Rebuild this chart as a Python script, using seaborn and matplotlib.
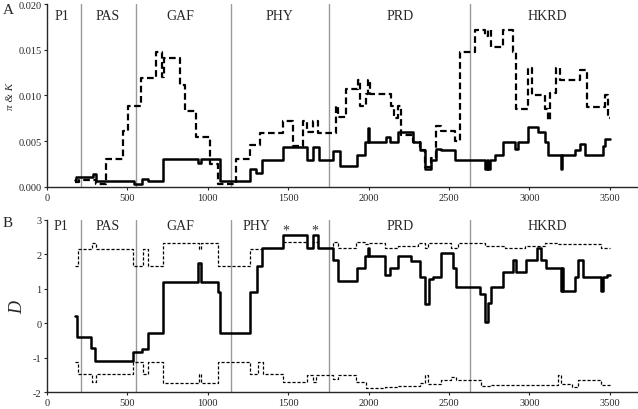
import numpy as np
import pandas as pd
import seaborn as sns
from matplotlib import pyplot as plt

# domain boundaries and names
boundaries = [210, 552, 1147, 1753, 2633]
domains = ["P1", "PAS", "GAF", "PHY", "PRD", "HKRD"]
domain_x_a = [92, 378, 826, 1448, 2195, 3110]
domain_x_b = [89, 380, 826, 1303, 2193, 3112]
star_x = [1485, 1666]

# panel A: sliding window pi (solid) and K (dashed), step values
pi_pos = [172, 183, 286, 307, 540, 590, 630, 722, 940, 960, 1075, 1265, 1300, 1340,
          1468, 1614, 1655, 1693, 1780, 1821, 1925, 1977, 1995, 2005, 2110, 2131,
          2183, 2276, 2318, 2349, 2390, 2421, 2452, 2535, 2722, 2735, 2745, 2755,
          2785, 2837, 2909, 2930, 2992, 3054, 3096, 3117, 3195, 3205, 3282, 3313,
          3345, 3460, 3469, 3500]
pi_val = [0.0008, 0.0011, 0.0014, 0.0006, 0.0003, 0.0009, 0.0006, 0.0031, 0.0026,
          0.0031, 0.0006, 0.0020, 0.0015, 0.00295, 0.0044, 0.00295, 0.0044, 0.00295,
          0.0039, 0.0023, 0.0035, 0.0049, 0.0065, 0.0049, 0.0055, 0.0049, 0.0060,
          0.0049, 0.0040, 0.0020, 0.0030, 0.0042, 0.0040, 0.0030, 0.0020, 0.0030,
          0.0020, 0.0030, 0.0035, 0.0049, 0.0042, 0.0049, 0.0066, 0.0060, 0.0049,
          0.0035, 0.0020, 0.0035, 0.0040, 0.0047, 0.0035, 0.0045, 0.0052, 0.0052]

k_pos = [172, 200, 307, 365, 473, 504, 587, 680, 716, 726, 826, 857, 929, 1012,
         1064, 1178, 1261, 1324, 1468, 1530, 1593, 1614, 1655, 1686, 1800, 1812,
         1861, 1934, 1944, 1986, 1998, 2010, 2141, 2160, 2180, 2204, 2276, 2318,
         2349, 2390, 2421, 2452, 2535, 2567, 2660, 2722, 2743, 2764, 2837, 2898,
         2919, 2992, 3014, 3096, 3117, 3127, 3168, 3189, 3313, 3355, 3469, 3490, 3500]
k_val = [0.0005, 0.0008, 0.0003, 0.0031, 0.0061, 0.0088, 0.0119, 0.0147, 0.0120,
         0.0141, 0.0112, 0.0083, 0.0055, 0.0025, 0.0003, 0.0031, 0.0046, 0.0059,
         0.0072, 0.0045, 0.0072, 0.0060, 0.0072, 0.0059, 0.0088, 0.0077, 0.0107,
         0.0117, 0.0088, 0.0102, 0.0117, 0.0102, 0.0088, 0.0075, 0.0088, 0.0057,
         0.0049, 0.0040, 0.0022, 0.0032, 0.0067, 0.0061, 0.0050, 0.0147, 0.0172,
         0.0165, 0.0172, 0.0153, 0.0172, 0.0147, 0.0085, 0.0130, 0.0100, 0.0085,
         0.0073, 0.0103, 0.0130, 0.0117, 0.0128, 0.0087, 0.0100, 0.0075, 0.0075]

# panel B: Tajima's D (solid) and confidence limits (dashed)
d_pos = [172, 187, 276, 300, 535, 593, 629, 722, 940, 960, 1064, 1075, 1261, 1303,
         1334, 1468, 1614, 1651, 1686, 1780, 1811, 1925, 1977, 1995, 2005, 2100,
         2131, 2183, 2266, 2318, 2349, 2374, 2402, 2452, 2525, 2546, 2691, 2722,
         2743, 2764, 2837, 2899, 2919, 2981, 3044, 3075, 3106, 3195, 3205, 3210,
         3282, 3303, 3334, 3448, 3459, 3480, 3500]
d_val = [0.22, -0.40, -0.72, -1.08, -0.82, -0.75, -0.28, 1.20, 1.75, 1.20, 0.90,
         -0.28, 0.92, 1.65, 2.19, 2.56, 2.19, 2.56, 2.19, 1.83, 1.23, 1.61, 1.95,
         2.20, 1.95, 1.40, 1.60, 1.95, 1.80, 1.35, 0.55, 1.30, 1.35, 2.05, 1.60,
         1.05, 0.85, 0.05, 0.60, 1.05, 1.50, 1.85, 1.50, 1.85, 2.20, 1.85, 1.60,
         0.95, 1.60, 0.95, 1.35, 1.85, 1.35, 0.95, 1.35, 1.40, 1.40]

up_pos = [172, 193, 282, 307, 535, 598, 629, 722, 945, 958, 1064, 1261, 1334, 1468,
          1614, 1651, 1686, 1780, 1811, 1924, 1975, 1996, 2100, 2183, 2308, 2350,
          2371, 2515, 2557, 2722, 2847, 2972, 3097, 3180, 3448, 3500]
up_val = [1.65, 2.15, 2.33, 2.15, 1.65, 2.15, 1.65, 2.33, 2.15, 2.33, 1.65, 2.15,
          2.19, 2.36, 2.19, 2.36, 2.19, 2.36, 2.18, 2.35, 2.30, 2.33, 2.20, 2.25,
          2.33, 2.20, 2.33, 2.18, 2.33, 2.25, 2.20, 2.25, 2.33, 2.30, 2.18, 2.18]

lo_pos = [172, 193, 282, 307, 535, 598, 629, 722, 945, 958, 1064, 1261, 1313, 1344,
          1468, 1614, 1651, 1675, 1780, 1811, 1924, 1985, 2100, 2183, 2318, 2350,
          2371, 2453, 2515, 2546, 2700, 2760, 3180, 3195, 3266, 3303, 3448, 3500]
lo_val = [-1.13, -1.48, -1.70, -1.48, -1.13, -1.48, -1.13, -1.72, -1.48, -1.72,
          -1.13, -1.48, -1.13, -1.48, -1.70, -1.49, -1.70, -1.49, -1.62, -1.49,
          -1.70, -1.88, -1.85, -1.82, -1.72, -1.50, -1.75, -1.65, -1.55, -1.65,
          -1.82, -1.80, -1.50, -1.75, -1.85, -1.65, -1.80, -1.80]

sns.set_style("ticks")
plt.rcParams['font.family'] = ['Liberation Serif', 'DejaVu Serif']
plt.rcParams['axes.linewidth'] = 1.0
plt.rcParams['axes.unicode_minus'] = False

fig = plt.figure(figsize=(6.38, 4.10), dpi=100)
ax_a = fig.add_axes([0.0737, 0.5415, 0.925, 0.4463])
ax_b = fig.add_axes([0.0737, 0.041, 0.925, 0.420])


def step(ax, pos, val, **kw):
    df = pd.DataFrame({"pos": pos, "val": val})
    sns.lineplot(data=df, x="pos", y="val", ax=ax, estimator=None,
                 drawstyle="steps-post", **kw)


for ax in (ax_a, ax_b):
    for b in boundaries:
        ax.axvline(b, color="#9a9a9a", lw=1.0, zorder=0)

step(ax_a, k_pos, k_val, color="black", lw=1.6, dashes=(3, 1.6))
step(ax_a, pi_pos, pi_val, color="black", lw=1.8)

step(ax_b, up_pos, up_val, color="black", lw=0.9, dashes=(2.5, 1.5))
step(ax_b, lo_pos, lo_val, color="black", lw=0.9, dashes=(2.5, 1.5))
step(ax_b, d_pos, d_val, color="black", lw=1.8)

ax_a.set_xlim(0, 3670)
ax_a.set_ylim(0, 0.020)
ax_a.set_yticks(np.arange(0, 0.0201, 0.005))
ax_a.set_yticklabels(["0.000", "0.005", "0.010", "0.015", "0.020"])
ax_b.set_xlim(0, 3670)
ax_b.set_ylim(-2, 3)
ax_b.set_yticks(range(-2, 4))

for ax in (ax_a, ax_b):
    ax.set_xticks(range(0, 3501, 500))
    ax.set_xlabel("")
    ax.tick_params(labelsize=7.5, length=2.5, width=0.8, pad=1.5)
    sns.despine(ax=ax)

ax_a.set_ylabel("π & K", fontsize=8, style="italic", labelpad=2)
ax_b.set_ylabel("D", fontsize=13, style="italic", labelpad=5)

for name, x in zip(domains, domain_x_a):
    ax_a.text(x, 0.0187, name, ha="center", va="center", fontsize=10)
for name, x in zip(domains, domain_x_b):
    ax_b.text(x, 2.83, name, ha="center", va="center", fontsize=10)
for x in star_x:
    ax_b.text(x, 2.72, "*", ha="center", va="center", fontsize=10, color="#333333")

fig.text(0.004, 0.975, "A", fontsize=11, va="center")
fig.text(0.004, 0.455, "B", fontsize=11, va="center")

fig.savefig("out.png", dpi=100)
